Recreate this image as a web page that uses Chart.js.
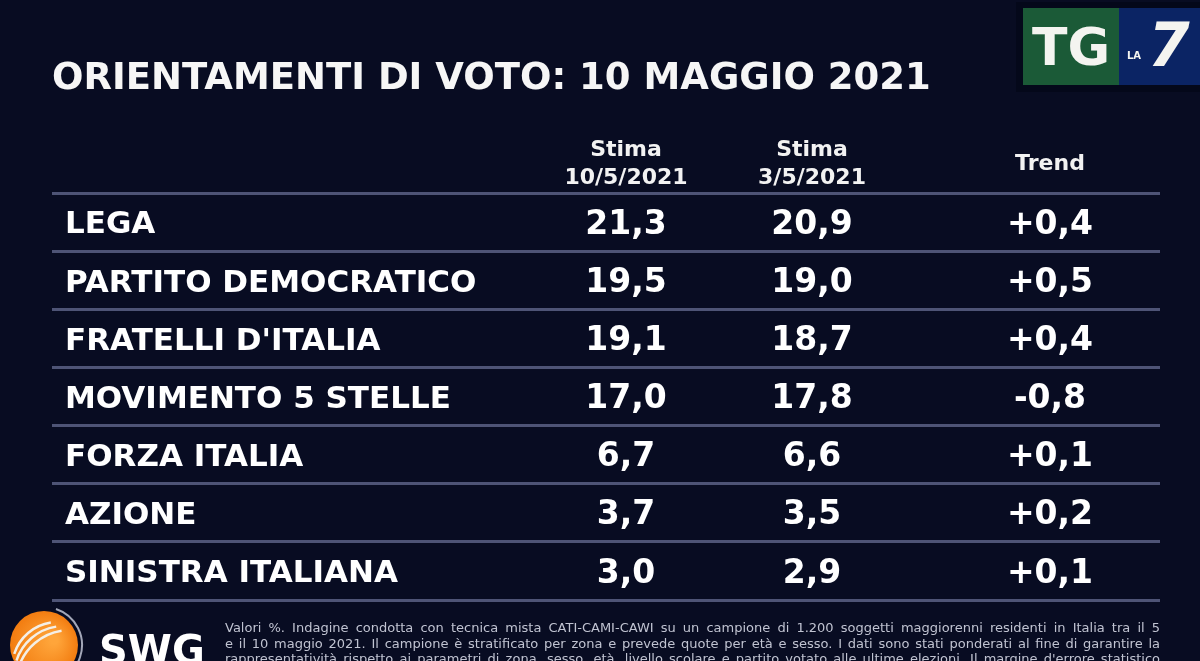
<!DOCTYPE html>
<html>
<head>
<meta charset="utf-8">
<script src="https://cdn.jsdelivr.net/npm/chart.js@4.4.1/dist/chart.umd.min.js"></script>
<style>
  html, body { margin: 0; padding: 0; background: #080c22; }
  #wrap { width: 1200px; height: 661px; position: relative; }
</style>
</head>
<body>
<div id="wrap"><canvas id="chart"></canvas></div>
<script>
// data
const titleText = 'ORIENTAMENTI DI VOTO: 10 MAGGIO 2021';
const parties   = ['LEGA', 'PARTITO DEMOCRATICO', "FRATELLI D'ITALIA", 'MOVIMENTO 5 STELLE',
                   'FORZA ITALIA', 'AZIONE', 'SINISTRA ITALIANA'];
const stima10   = [21.3, 19.5, 19.1, 17.0, 6.7, 3.7, 3.0];
const stima3    = [20.9, 19.0, 18.7, 17.8, 6.6, 3.5, 2.9];
const trend     = [0.4, 0.5, 0.4, -0.8, 0.1, 0.2, 0.1];
const headers   = [['Stima', '10/5/2021'], ['Stima', '3/5/2021'], 'Trend'];
const noteLines = [
  'Valori %. Indagine condotta con tecnica mista CATI-CAMI-CAWI su un campione di 1.200 soggetti maggiorenni residenti in Italia tra il 5',
  'e il 10 maggio 2021. Il campione è stratificato per zona e prevede quote per età e sesso. I dati sono stati ponderati al fine di garantire la',
  "rappresentatività rispetto ai parametri di zona, sesso, età, livello scolare e partito votato alle ultime elezioni. Il margine d'errore statistico"
];

// layout (table units across the row width)
const colX   = [574, 760, 998];
const tableW = 1108;
const FONT   = '"DejaVu Sans", Verdana, sans-serif';
const BG     = '#080c22';

const fmt = v => v.toFixed(1).replace('.', ',');
const fmtTrend = v => (v > 0 ? '+' : '') + fmt(v);

const series = [stima10, stima3, trend];

const background = {
  id: 'background',
  beforeDraw(chart) {
    const ctx = chart.ctx;
    ctx.save();
    ctx.fillStyle = BG;
    ctx.fillRect(0, 0, chart.width, chart.height);
    ctx.restore();
  }
};

const cellText = {
  id: 'cellText',
  afterDatasetsDraw(chart) {
    const ctx = chart.ctx;
    ctx.save();
    ctx.fillStyle = '#ffffff';
    ctx.font = 'bold 33px ' + FONT;
    ctx.textAlign = 'center';
    ctx.textBaseline = 'middle';
    chart.data.datasets.forEach((ds, k) => {
      const meta = chart.getDatasetMeta(k);
      meta.data.forEach((pt, i) => {
        const v = ds.data[i].v;
        ctx.fillText(k === 2 ? fmtTrend(v) : fmt(v), pt.x, pt.y + 3);
      });
    });
    ctx.restore();
  }
};

function justify(ctx, text, x, y, w) {
  const words = text.split(' ');
  const total = words.reduce((s, t) => s + ctx.measureText(t).width, 0);
  const gap = (w - total) / (words.length - 1);
  let cx = x;
  words.forEach(t => {
    ctx.fillText(t, cx, y);
    cx += ctx.measureText(t).width + gap;
  });
}

const decorations = {
  id: 'decorations',
  afterDraw(chart) {
    const ctx = chart.ctx;
    ctx.save();

    // footer note
    ctx.fillStyle = '#c0c3d1';
    ctx.font = '13px ' + FONT;
    ctx.textBaseline = 'alphabetic';
    noteLines.forEach((t, i) => justify(ctx, t, 225, 632 + i * 15.5, 935));

    // SWG logo
    ctx.beginPath();
    ctx.arc(44, 645, 38, -1.25, 1.25);
    ctx.strokeStyle = 'rgba(190,195,210,0.85)';
    ctx.lineWidth = 2;
    ctx.stroke();
    const g = ctx.createRadialGradient(54, 640, 4, 44, 645, 34);
    g.addColorStop(0, '#ffa53a');
    g.addColorStop(1, '#f27c10');
    ctx.beginPath();
    ctx.arc(44, 645, 34, 0, Math.PI * 2);
    ctx.fillStyle = g;
    ctx.fill();
    ctx.strokeStyle = '#f4efe6';
    ctx.lineWidth = 2.5;
    [[58, 668, 46], [64, 676, 50], [70, 684, 54]].forEach(([cx, cy, r]) => {
      ctx.beginPath();
      ctx.arc(cx, cy, r, Math.PI * 1.1, Math.PI * 1.45);
      ctx.stroke();
    });
    ctx.fillStyle = '#ffffff';
    ctx.font = 'bold 40px ' + FONT;
    ctx.textAlign = 'left';
    ctx.fillText('SWG', 99, 664);

    // TG LA7 logo
    ctx.fillStyle = '#04081a';
    ctx.fillRect(1016, 2, 184, 90);
    ctx.fillStyle = '#1b5a37';
    ctx.fillRect(1023, 8, 96, 77);
    ctx.fillStyle = '#0b2464';
    ctx.fillRect(1119, 8, 81, 77);
    ctx.fillStyle = '#f4f4f0';
    ctx.font = 'bold 52px ' + FONT;
    ctx.textAlign = 'center';
    ctx.fillText('TG', 1071, 65);
    ctx.font = 'bold 10px ' + FONT;
    ctx.textAlign = 'left';
    ctx.fillText('LA', 1127, 59);
    ctx.font = 'bold italic 60px ' + FONT;
    ctx.fillText('7', 1148, 66);

    ctx.restore();
  }
};

new Chart(document.getElementById('chart'), {
  type: 'scatter',
  data: {
    datasets: series.map((vals, k) => ({
      label: k,
      data: vals.map((v, i) => ({ x: colX[k], y: parties[i], v: v })),
      pointRadius: 0,
      pointHoverRadius: 0,
      showLine: false
    }))
  },
  options: {
    responsive: true,
    maintainAspectRatio: false,
    animation: false,
    events: [],
    layout: { padding: { left: 52, right: 40, top: 0, bottom: 61 } },
    plugins: {
      legend: { display: false },
      tooltip: { enabled: false },
      title: {
        display: true,
        text: titleText,
        align: 'start',
        color: '#f6f6f6',
        font: { family: FONT, weight: 'bold', size: 37 },
        padding: { top: 57, bottom: 8 }
      }
    },
    scales: {
      x: {
        type: 'linear',
        position: 'top',
        min: 0,
        max: tableW,
        grid: { display: false, drawTicks: false },
        border: { display: false },
        afterBuildTicks: s => { s.ticks = colX.map(v => ({ value: v })); },
        afterFit: s => { s.height = 84; },
        ticks: {
          callback: (v, i) => headers[i],
          color: '#f2f2f2',
          font: { family: FONT, weight: 'bold', size: 22, lineHeight: 1.27 },
          padding: 15,
          crossAlign: 'center',
          maxRotation: 0,
          autoSkip: false
        }
      },
      y: {
        type: 'category',
        labels: parties,
        offset: true,
        afterFit: s => { s.width = 0; },
        grid: { offset: true, color: '#4e5476', lineWidth: 3, drawTicks: false },
        border: { display: false },
        ticks: {
          mirror: true,
          padding: 13,
          labelOffset: 3,
          color: '#ffffff',
          font: { family: FONT, weight: 'bold', size: 31 }
        }
      }
    }
  },
  plugins: [background, cellText, decorations]
});
</script>
</body>
</html>
